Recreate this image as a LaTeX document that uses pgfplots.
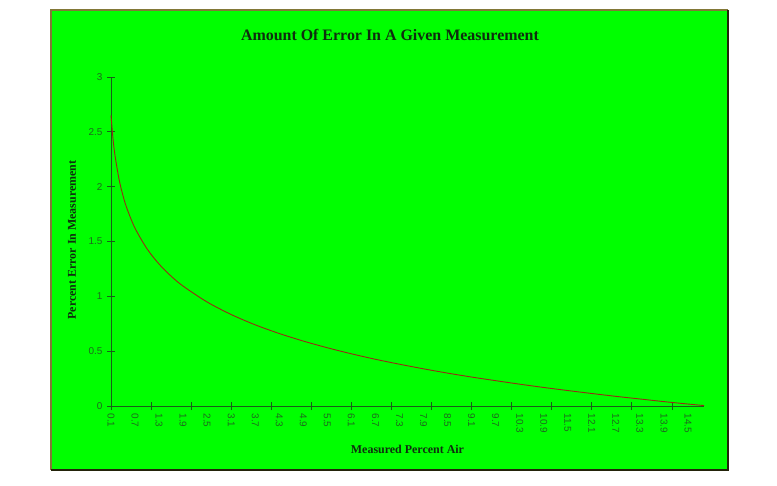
\documentclass[border=0pt]{standalone}
\usepackage{fontspec}
\setmainfont{Liberation Serif}
\setsansfont{Liberation Sans}
\usepackage{pgfplots}
\pgfplotsset{compat=1.18}
\definecolor{bggreen}{RGB}{0,255,0}
\definecolor{axgreen}{RGB}{25,95,25}
\definecolor{lblgreen}{RGB}{30,105,30}
\definecolor{txtdark}{RGB}{15,45,15}
\definecolor{curve}{RGB}{150,45,20}
\definecolor{edgeolive}{RGB}{130,120,55}
\definecolor{edgedark}{RGB}{35,35,10}
\begin{document}
\begin{tikzpicture}
\fill[white] (0,0) rectangle (777bp,486bp);
\fill[bggreen] (51bp,16bp) rectangle (728bp,476bp);
\draw[edgeolive,line width=1.5bp] (51bp,16bp) -- (51bp,476bp) -- (728bp,476bp);
\draw[edgedark,line width=2bp] (728bp,476bp) -- (728bp,16bp) -- (51bp,16bp);
\begin{axis}[
  at={(111bp,80bp)}, anchor=south west,
  scale only axis, width=593bp, height=329bp,
  xmin=0.1, xmax=14.9, ymin=0, ymax=3,
  axis lines*=left,
  axis line style={axgreen, line width=0.8bp},
  every tick/.style={axgreen, line width=0.8bp},
  tick align=center,
  major tick length=8bp,
  xtick={0.1,1.1,2.1,3.1,4.1,5.1,6.1,7.1,8.1,9.1,10.1,11.1,12.1,13.1,14.1},
  xticklabels={},
  extra x ticks={0.1,0.7,1.3,1.9,2.5,3.1,3.7,4.3,4.9,5.5,6.1,6.7,7.3,7.9,8.5,9.1,9.7,10.3,10.9,11.5,12.1,12.7,13.3,13.9,14.5},
  extra x tick labels={0.1,0.7,1.3,1.9,2.5,3.1,3.7,4.3,4.9,5.5,6.1,6.7,7.3,7.9,8.5,9.1,9.7,10.3,10.9,11.5,12.1,12.7,13.3,13.9,14.5},
  extra x tick style={major tick length=0pt, xticklabel style={rotate=-90, anchor=west, xshift=4bp}},
  ytick={0,0.5,1,1.5,2,2.5,3},
  yticklabels={0,0.5,1,1.5,2,2.5,3},
  /pgf/number format/assume math mode=true,
  tick label style={font=\sffamily\fontsize{10}{12}\selectfont, text=lblgreen},
  yticklabel style={anchor=east, xshift=-1bp},
  title={Amount Of Error In A Given Measurement},
  title style={at={(axis description cs:0.4704,1.1095)}, anchor=center, font=\bfseries\fontsize{16}{19}\selectfont, text=txtdark},
  xlabel={Measured Percent Air},
  xlabel style={at={(axis description cs:0.5,-0.1307)}, anchor=center, font=\bfseries\fontsize{12}{14}\selectfont, text=txtdark},
  ylabel={Percent Error In Measurement},
  ylabel style={at={(axis description cs:-0.0659,0.5046)}, anchor=center, font=\bfseries\fontsize{12}{14}\selectfont, text=txtdark},
  clip=false,
]
\addplot[curve, line width=0.9bp, smooth, no marks] coordinates {
(0.1,2.651) (0.15,2.436) (0.2,2.284) (0.3,2.069) (0.4,1.917) (0.5,1.799)
(0.7,1.621) (1.0,1.433) (1.3,1.294) (1.6,1.184) (1.9,1.093) (2.5,0.948)
(3.1,0.834) (3.7,0.740) (4.3,0.661) (4.9,0.592) (5.5,0.531) (6.1,0.476)
(6.7,0.426) (7.3,0.381) (7.9,0.339) (8.5,0.300) (9.1,0.264) (9.7,0.231)
(10.3,0.199) (10.9,0.169) (11.5,0.141) (12.1,0.114) (12.7,0.088) (13.3,0.064)
(13.9,0.040) (14.5,0.018) (14.9,0.004)
};
\end{axis}
\end{tikzpicture}
\end{document}
